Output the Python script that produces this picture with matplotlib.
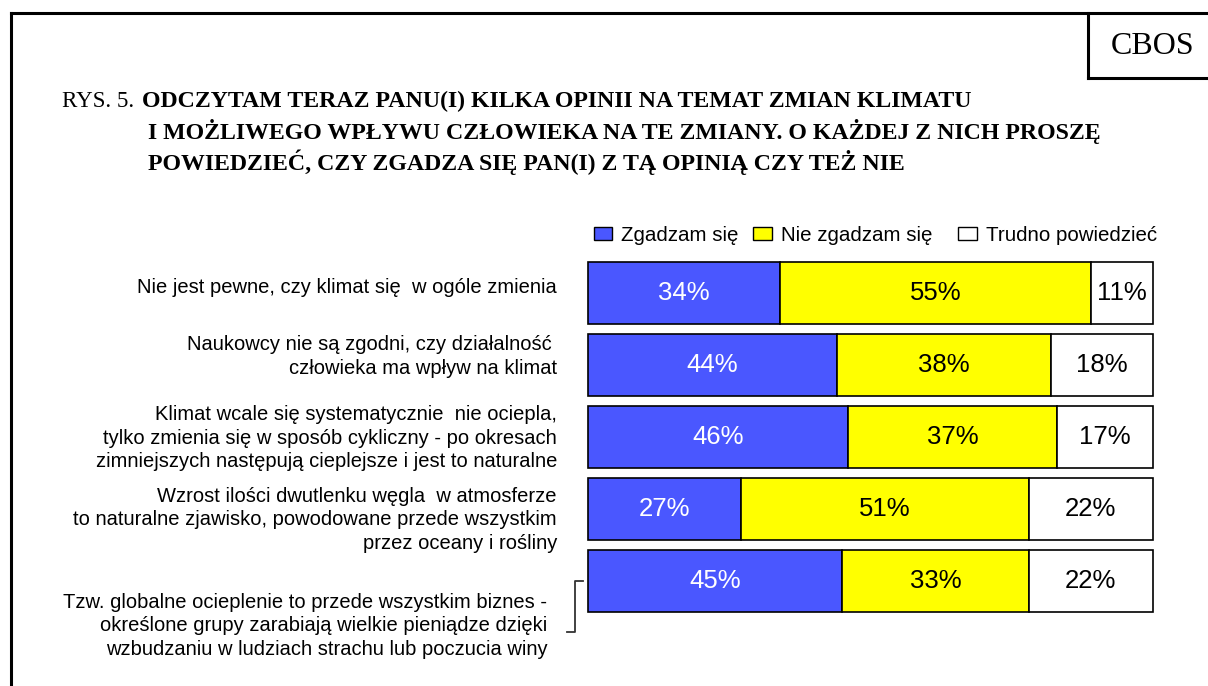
import matplotlib.pyplot as plt
from matplotlib.patches import Patch

# Dane (odsetki odpowiedzi)
statements = [
    "Nie jest pewne, czy klimat się  w ogóle zmienia",
    "Naukowcy nie są zgodni, czy działalność \nczłowieka ma wpływ na klimat",
    "Klimat wcale się systematycznie  nie ociepla,\ntylko zmienia się w sposób cykliczny - po okresach\nzimniejszych następują cieplejsze i jest to naturalne",
    "Wzrost ilości dwutlenku węgla  w atmosferze\nto naturalne zjawisko, powodowane przede wszystkim\nprzez oceany i rośliny",
    "Tzw. globalne ocieplenie to przede wszystkim biznes -\nokreślone grupy zarabiają wielkie pieniądze dzięki\nwzbudzaniu w ludziach strachu lub poczucia winy",
]
series_names = ["Zgadzam się", "Nie zgadzam się  ", "Trudno powiedzieć"]
agree = [34, 44, 46, 27, 45]
disagree = [55, 38, 37, 51, 33]
hard_to_say = [11, 18, 17, 22, 22]

colors = ["#4a57ff", "#ffff00", "#ffffff"]
text_colors = ["white", "black", "black"]

W, H = 1208, 686
fig = plt.figure(figsize=(W / 100, H / 100), dpi=100)
plt.rcParams["font.family"] = ["Liberation Sans", "DejaVu Sans"]

# ramka i pole CBOS (w pikselach)
def px_line(xs, ys, lw=2.2):
    fig.add_artist(plt.Line2D([x / W for x in xs], [1 - y / H for y in ys],
                              color="black", lw=lw, transform=fig.transFigure))

px_line([11, 11], [686, 13])
px_line([11, 1208], [13, 13])
px_line([1088, 1088], [13, 78])
px_line([1088, 1208], [78, 78])
fig.text(1153 / W, 1 - 54 / H, "CBOS", family="Liberation Serif", fontsize=23,
         ha="center", va="baseline")

# tytuł
serif = "Liberation Serif"
tsize = 17.2
fig.text(62 / W, 1 - 107 / H, "RYS. 5.", family=serif, fontsize=16.6, va="baseline")
fig.text(142 / W, 1 - 107 / H, "ODCZYTAM TERAZ PANU(I) KILKA OPINII NA TEMAT ZMIAN KLIMATU",
         family=serif, fontsize=tsize, fontweight="bold", va="baseline")
fig.text(148 / W, 1 - 139 / H, "I MOŻLIWEGO WPŁYWU CZŁOWIEKA NA TE ZMIANY. O KAŻDEJ Z NICH PROSZĘ",
         family=serif, fontsize=tsize, fontweight="bold", va="baseline")
fig.text(148 / W, 1 - 170 / H, "POWIEDZIEĆ, CZY ZGADZA SIĘ PAN(I) Z TĄ OPINIĄ CZY TEŻ NIE",
         family=serif, fontsize=tsize, fontweight="bold", va="baseline")

# osie słupków
ax = fig.add_axes([588 / W, 1 - 617 / H, (1153 - 588) / W, 360 / H])
ax.set_xlim(0, 100)
ax.set_ylim(4.5, -0.5)
ax.axis("off")

ypos = list(range(len(statements)))
lefts = [0] * len(statements)
for vals, col, tcol in zip([agree, disagree, hard_to_say], colors, text_colors):
    ax.barh(ypos, vals, left=lefts, height=0.86, color=col, edgecolor="black",
            linewidth=1.2, clip_on=False)
    for y, v, l in zip(ypos, vals, lefts):
        ax.text(l + v / 2, y, f"{v}%", ha="center", va="center", fontsize=18.5,
                color=tcol)
    lefts = [l + v for l, v in zip(lefts, vals)]

# etykiety
label_dy = [-0.08, -0.12, 0.02, 0.15, 0.62]
label_x = [-5.5, -5.5, -5.5, -5.5, -7.2]
for y, s, dy, lx in zip(ypos, statements, label_dy, label_x):
    ax.text(lx, y + dy, s, ha="right", va="center", fontsize=14.5,
            linespacing=1.3, clip_on=False)

# nawias przy ostatniej etykiecie
ax.plot([-0.9, -2.3, -2.3, -3.7], [4.0, 4.0, 4.71, 4.71], color="#333333",
        lw=1.3, clip_on=False)

# legenda
handles = [Patch(facecolor=c, edgecolor="black", lw=1) for c in colors]
ax.legend(handles, series_names, loc="lower left", bbox_to_anchor=(-0.012, 1.0),
          ncol=3, frameon=False, fontsize=14.8, handlelength=0.9, handleheight=0.65,
          handletextpad=0.45, columnspacing=0.7, borderaxespad=0.2)

plt.savefig("out.png", dpi=100)
